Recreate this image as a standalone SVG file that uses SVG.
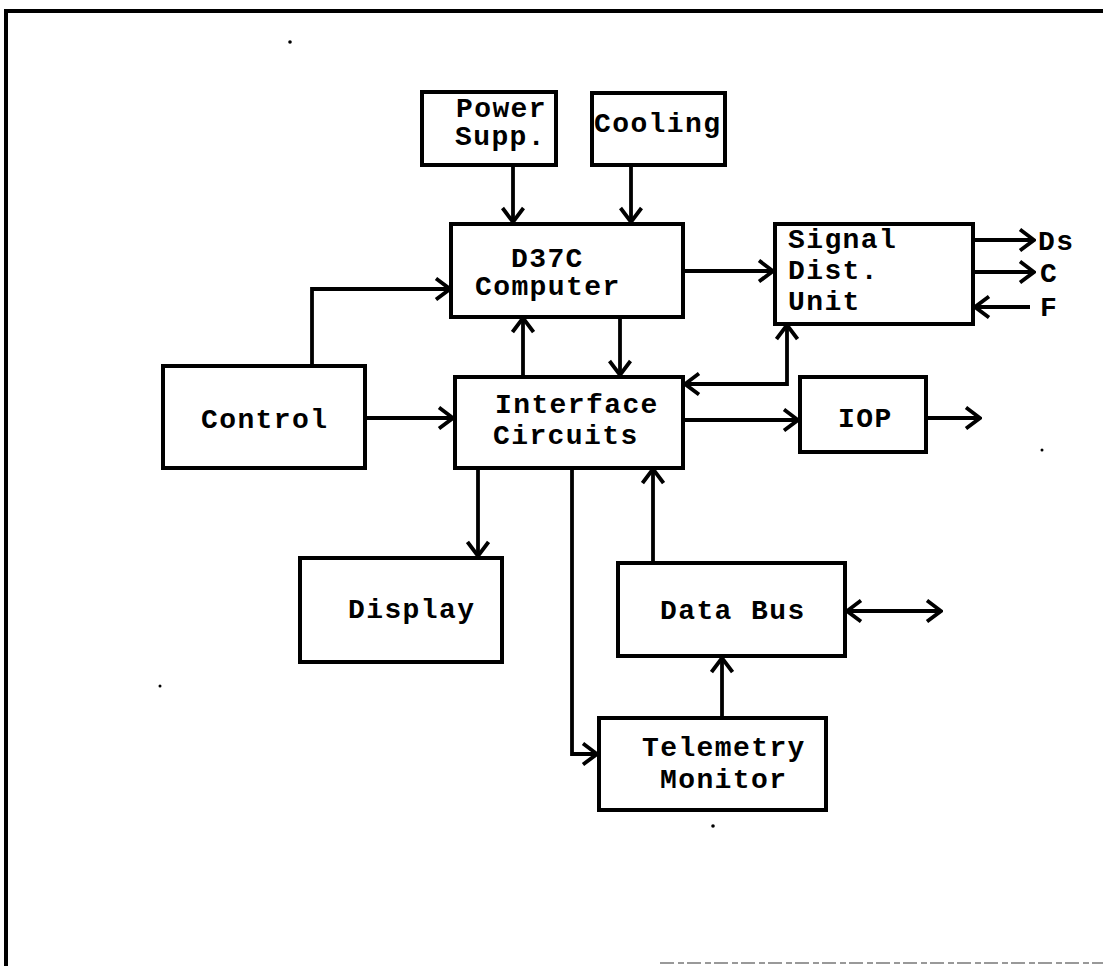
<svg xmlns="http://www.w3.org/2000/svg" width="1103" height="966" viewBox="0 0 1103 966">
<defs>
<style>
.box{fill:#fff;stroke:#000;stroke-width:4}
.t{font-family:"Liberation Mono","DejaVu Sans Mono",monospace;font-weight:bold;font-size:28px;letter-spacing:1.4px;fill:#000}
.c{fill:none;stroke:#000;stroke-width:3.8}
</style>
<marker id="ah" viewBox="0 0 18 24" refX="16" refY="12" markerWidth="18" markerHeight="24" markerUnits="userSpaceOnUse" orient="auto-start-reverse">
<path d="M2,1.5 L16,12 L2,22.5" fill="none" stroke="#000" stroke-width="3.8" stroke-linejoin="miter"/>
</marker>
</defs>
<rect width="1103" height="966" fill="#fff"/>
<path d="M6,966 L6,11 L1103,11" fill="none" stroke="#000" stroke-width="4"/>
<line x1="660" y1="963" x2="1103" y2="963" stroke="#999" stroke-width="2" stroke-dasharray="14 4 6 3"/>
<circle cx="290" cy="42" r="1.8" fill="#000"/>
<circle cx="160" cy="686" r="1.5" fill="#000"/>
<circle cx="1042" cy="450" r="1.5" fill="#000"/>
<circle cx="713" cy="826" r="1.8" fill="#000"/>

<g id="connectors">
<path class="c" d="M513,165 L513,222" marker-end="url(#ah)"/>
<path class="c" d="M631,165 L631,222" marker-end="url(#ah)"/>
<path class="c" d="M683,271 L773,271" marker-end="url(#ah)"/>
<path class="c" d="M973,240 L1034,240" marker-end="url(#ah)"/>
<path class="c" d="M973,272 L1034,272" marker-end="url(#ah)"/>
<path class="c" d="M1030,307 L975,307" marker-end="url(#ah)"/>
<path class="c" d="M312,366 L312,289 L450,289" marker-end="url(#ah)"/>
<path class="c" d="M365,418 L453,418" marker-end="url(#ah)"/>
<path class="c" d="M523,377 L523,318" marker-end="url(#ah)"/>
<path class="c" d="M620,317 L620,375" marker-end="url(#ah)"/>
<path class="c" d="M685,384 L787,384 L787,325" marker-start="url(#ah)" marker-end="url(#ah)"/>
<path class="c" d="M683,420 L798,420" marker-end="url(#ah)"/>
<path class="c" d="M926,418 L980,418" marker-end="url(#ah)"/>
<path class="c" d="M478,468 L478,556" marker-end="url(#ah)"/>
<path class="c" d="M572,468 L572,754 L597,754" marker-end="url(#ah)"/>
<path class="c" d="M653,563 L653,469" marker-end="url(#ah)"/>
<path class="c" d="M847,611 L941,611" marker-start="url(#ah)" marker-end="url(#ah)"/>
<path class="c" d="M722,718 L722,658" marker-end="url(#ah)"/>
</g>

<g id="power">
<rect class="box" x="422" y="92" width="134" height="73"/>
<text class="t" x="456" y="117">Power</text>
<text class="t" x="455" y="145">Supp.</text>
</g>
<g id="cooling">
<rect class="box" x="592" y="93" width="133" height="72"/>
<text class="t" x="594" y="132">Cooling</text>
</g>
<g id="computer">
<rect class="box" x="451" y="224" width="232" height="93"/>
<text class="t" x="511" y="267">D37C</text>
<text class="t" x="475" y="295">Computer</text>
</g>
<g id="sdu">
<rect class="box" x="775" y="224" width="198" height="100"/>
<text class="t" x="788" y="248">Signal</text>
<text class="t" x="788" y="279">Dist.</text>
<text class="t" x="788" y="310">Unit</text>
<text class="t" x="1038" y="250">Ds</text>
<text class="t" x="1040" y="282">C</text>
<text class="t" x="1040" y="316">F</text>
</g>
<g id="control">
<rect class="box" x="163" y="366" width="202" height="102"/>
<text class="t" x="201" y="428">Control</text>
</g>
<g id="interface">
<rect class="box" x="455" y="377" width="228" height="91"/>
<text class="t" x="495" y="413">Interface</text>
<text class="t" x="493" y="444">Circuits</text>
</g>
<g id="iop">
<rect class="box" x="800" y="377" width="126" height="75"/>
<text class="t" x="838" y="427">IOP</text>
</g>
<g id="display">
<rect class="box" x="300" y="558" width="202" height="104"/>
<text class="t" x="348" y="618">Display</text>
</g>
<g id="databus">
<rect class="box" x="618" y="563" width="227" height="93"/>
<text class="t" x="660" y="619">Data Bus</text>
</g>
<g id="telemetry">
<rect class="box" x="599" y="718" width="227" height="92"/>
<text class="t" x="642" y="756">Telemetry</text>
<text class="t" x="660" y="788">Monitor</text>
</g>
</svg>
